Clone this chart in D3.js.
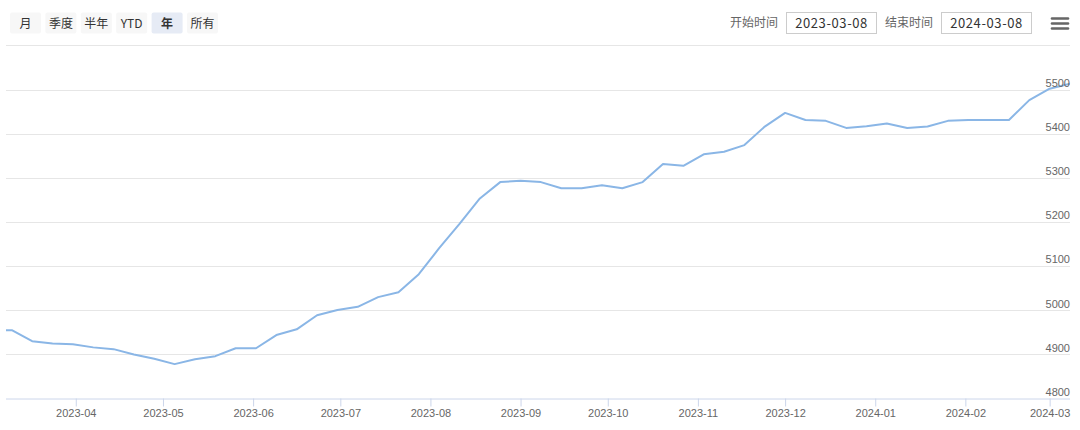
<!DOCTYPE html>
<html>
<head>
<meta charset="utf-8">
<script src="https://cdn.jsdelivr.net/npm/d3@7"></script>
<style>
  html, body { margin: 0; padding: 0; background: #fff; }
  svg { display: block; }
</style>
</head>
<body>
<svg id="chart" width="1080" height="430"></svg>
<script>
// ---- data ----
const dates = [
  "2023-03-03","2023-03-10","2023-03-17","2023-03-24","2023-03-31",
  "2023-04-07","2023-04-14","2023-04-21","2023-04-28",
  "2023-05-05","2023-05-12","2023-05-19","2023-05-26",
  "2023-06-02","2023-06-09","2023-06-16","2023-06-23","2023-06-30",
  "2023-07-07","2023-07-14","2023-07-21","2023-07-28",
  "2023-08-04","2023-08-11","2023-08-18","2023-08-25",
  "2023-09-01","2023-09-08","2023-09-15","2023-09-22","2023-09-29",
  "2023-10-06","2023-10-13","2023-10-20","2023-10-27",
  "2023-11-03","2023-11-10","2023-11-17","2023-11-24",
  "2023-12-01","2023-12-08","2023-12-15","2023-12-22","2023-12-29",
  "2024-01-05","2024-01-12","2024-01-19","2024-01-26",
  "2024-02-02","2024-02-09","2024-02-16","2024-02-23",
  "2024-03-01","2024-03-08"
];
const values = [
  4955, 4955, 4930, 4925, 4923,
  4916, 4912, 4900, 4890,
  4878, 4889, 4896, 4914,
  4914, 4944, 4957, 4989, 5001,
  5008, 5030, 5041, 5082,
  5141, 5196, 5254, 5291,
  5294, 5291, 5277, 5277, 5284,
  5277, 5291, 5332, 5328,
  5354, 5360, 5375, 5417,
  5448, 5432, 5430, 5414, 5418,
  5424, 5414, 5417, 5430,
  5432, 5432, 5432, 5477,
  5503, 5514
];
const yTicks = [4800, 4900, 5000, 5100, 5200, 5300, 5400, 5500];
const xTicks = ["2023-04","2023-05","2023-06","2023-07","2023-08","2023-09",
                "2023-10","2023-11","2023-12","2024-01","2024-02","2024-03"];
const rangeButtons = ["月","季度","半年","YTD","年","所有"];
const selectedButton = "年";
const startLabel = "开始时间", endLabel = "结束时间";
const startDate = "2023-03-08", endDate = "2024-03-08";

// ---- layout ----
const svg = d3.select("#chart");
const plot = { left: 6, right: 1070, top: 46, bottom: 398.5 };
const parse = d3.timeParse("%Y-%m-%d");
const parseM = d3.timeParse("%Y-%m");

const x = d3.scaleTime()
  .domain([parse(startDate), parse(endDate)])
  .range([plot.left, plot.right]);
const y = d3.scaleLinear()
  .domain([4800, 5500])
  .range([plot.bottom, 90]);

const labelFont = "'Liberation Sans', Arial, sans-serif";
const cjkFont = "'Noto Sans CJK SC', 'Liberation Sans', sans-serif";

// ---- range selector buttons ----
const btnG = svg.append("g");
const bx = 10, btnW = 31, btnGap = 4.4;
rangeButtons.forEach((b, i) => {
  const g = btnG.append("g").attr("transform", `translate(${bx + i * (btnW + btnGap)},12.5)`);
  g.append("rect").attr("width", btnW).attr("height", 21).attr("rx", 2)
    .attr("fill", b === selectedButton ? "#e6ebf5" : "#f7f7f7");
  g.append("text").attr("x", btnW / 2).attr("y", 15)
    .attr("text-anchor", "middle")
    .attr("font-family", cjkFont).attr("font-size", 12)
    .attr("font-weight", b === selectedButton ? "bold" : "normal")
    .attr("fill", "#333").text(b);
});

// ---- date inputs ----
function dateInput(label, value, labelRight, boxX) {
  svg.append("text").attr("x", labelRight).attr("y", 27)
    .attr("text-anchor", "end").attr("font-family", cjkFont)
    .attr("font-size", 12).attr("fill", "#666").text(label);
  svg.append("rect").attr("x", boxX + 0.5).attr("y", 12.5).attr("width", 90).attr("height", 21)
    .attr("fill", "#fff").attr("stroke", "#cccccc").attr("stroke-width", 1);
  svg.append("text").attr("x", boxX + 45.5).attr("y", 27.5)
    .attr("text-anchor", "middle").attr("font-family", cjkFont)
    .attr("font-size", 13).attr("fill", "#333").attr("letter-spacing", 0.6).text(value);
}
dateInput(startLabel, startDate, 778, 786);
dateInput(endLabel, endDate, 933, 941);

// menu icon
[18.5, 23.5, 28.5].forEach(yy => {
  svg.append("line").attr("x1", 1052).attr("x2", 1068).attr("y1", yy).attr("y2", yy)
    .attr("stroke", "#666").attr("stroke-width", 2.6).attr("stroke-linecap", "round");
});

// separator line under controls
svg.append("line").attr("x1", plot.left).attr("x2", plot.right)
  .attr("y1", 45.5).attr("y2", 45.5).attr("stroke", "#e6e6e6");

// ---- grid + y labels ----
const yAxis = d3.axisRight(y).tickValues(yTicks).tickSize(0).tickFormat(d3.format("d"));
const gy = svg.append("g").attr("transform", `translate(${plot.right},0)`).call(yAxis);
gy.select(".domain").remove();
gy.selectAll(".tick text")
  .attr("x", 0).attr("dy", "-0.3em").attr("text-anchor", "end")
  .attr("font-family", labelFont).attr("font-size", 11).attr("fill", "#666");

svg.append("g").selectAll("line").data(yTicks.filter(d => d !== 4800)).join("line")
  .attr("x1", plot.left).attr("x2", plot.right)
  .attr("y1", d => Math.round(y(d)) + 0.5).attr("y2", d => Math.round(y(d)) + 0.5)
  .attr("stroke", "#e6e6e6");

// ---- x axis ----
const xAxis = d3.axisBottom(x)
  .tickValues(xTicks.map(parseM))
  .tickSize(8).tickPadding(3)
  .tickFormat(d3.timeFormat("%Y-%m"));
const gx = svg.append("g").attr("transform", `translate(0,${plot.bottom})`).call(xAxis);
gx.select(".domain").attr("stroke", "#ccd6eb").attr("d", `M${plot.left},0.5H${plot.right}`);
gx.selectAll(".tick line").attr("stroke", "#ccd6eb");
gx.selectAll(".tick text").attr("font-family", labelFont).attr("font-size", 11).attr("fill", "#666");

// ---- line ----
svg.append("clipPath").attr("id", "clip").append("rect")
  .attr("x", plot.left).attr("y", plot.top).attr("width", plot.right - plot.left).attr("height", plot.bottom - plot.top);

const series = dates.map((d, i) => ({ date: parse(d), value: values[i] }));
const line = d3.line().x(d => x(d.date)).y(d => y(d.value));
svg.append("path").datum(series)
  .attr("clip-path", "url(#clip)")
  .attr("fill", "none").attr("stroke", "#8ab6e6").attr("stroke-width", 2)
  .attr("stroke-linejoin", "round")
  .attr("d", line);

gy.raise();
</script>
</body>
</html>
